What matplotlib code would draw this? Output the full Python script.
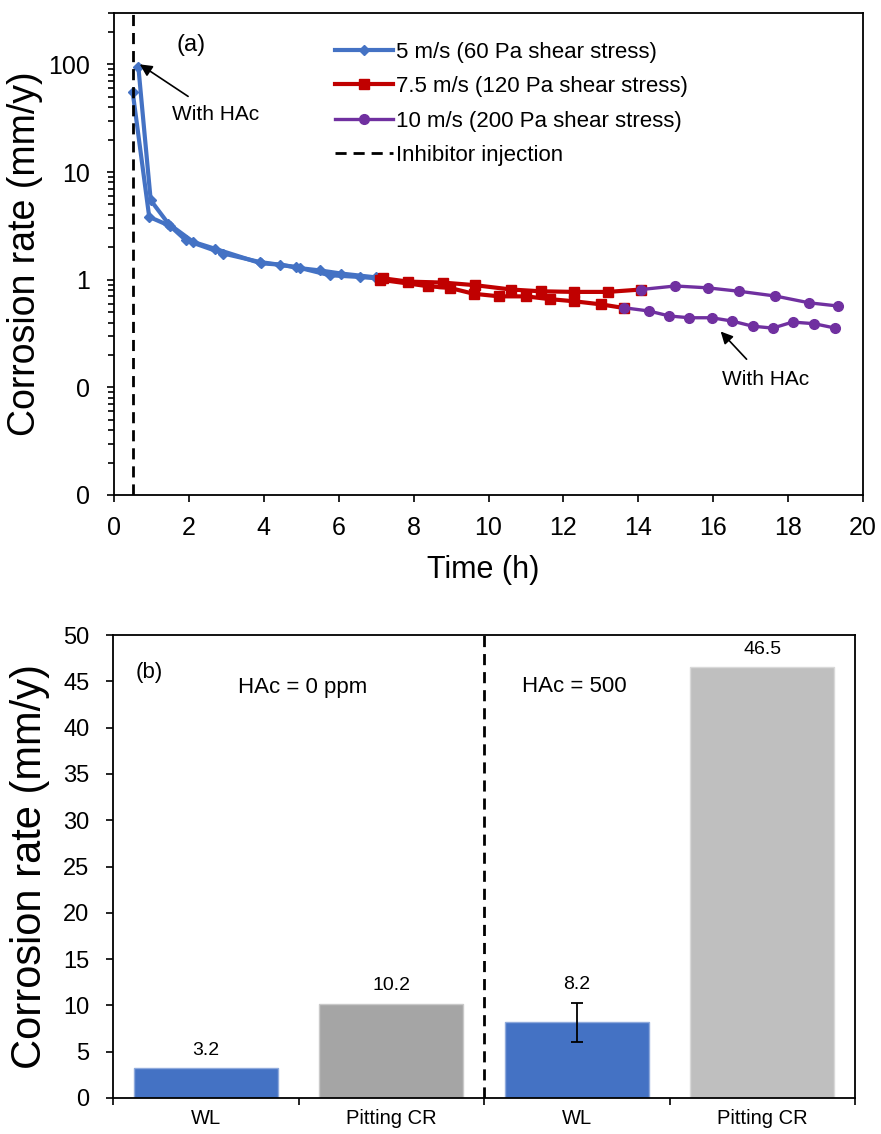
import numpy as np
import matplotlib
matplotlib.use("Agg")
from matplotlib import pyplot as plt
from matplotlib.ticker import FixedLocator, FuncFormatter, NullFormatter

plt.rcParams['font.family'] = ['Liberation Sans', 'DejaVu Sans']

# ---- dados (a): taxa de corrosao x tempo ----
# 5 m/s
t_5_a = [0.5, 0.94, 1.5, 1.92, 2.92, 3.89, 4.87, 5.76, 6.56, 7.0]
cr_5_a = [55, 3.83, 3.15, 2.32, 1.75, 1.46, 1.31, 1.10, 1.06, 1.03]
t_5_b = [0.65, 0.98, 1.45, 2.12, 2.69, 3.92, 4.43, 4.96, 5.49, 6.07, 7.0]
cr_5_b = [95, 5.47, 3.32, 2.24, 1.94, 1.42, 1.38, 1.28, 1.22, 1.14, 1.05]
# 7.5 m/s
t_75_a = [7.18, 7.85, 8.78, 9.63, 10.61, 11.4, 12.29, 13.18, 14.07]
cr_75_a = [1.03, 0.96, 0.94, 0.89, 0.81, 0.78, 0.77, 0.77, 0.81]
t_75_b = [7.1, 8.38, 8.96, 9.6, 10.29, 11.0, 11.63, 12.29, 13.0, 13.63]
cr_75_b = [1.0, 0.87, 0.84, 0.74, 0.70, 0.70, 0.66, 0.63, 0.59, 0.545]
# 10 m/s
t_10_a = [14.07, 14.99, 15.85, 16.7, 17.66, 18.56, 19.32]
cr_10_a = [0.81, 0.874, 0.84, 0.78, 0.705, 0.61, 0.57]
t_10_b = [13.63, 14.28, 14.83, 15.36, 15.96, 16.5, 17.05, 17.59, 18.12, 18.7, 19.26]
cr_10_b = [0.548, 0.512, 0.46, 0.443, 0.443, 0.413, 0.37, 0.355, 0.404, 0.39, 0.355]

t_injecao = 0.5

# ---- dados (b): barras ----
categorias = ["WL", "Pitting CR", "WL", "Pitting CR"]
valores = [3.2, 10.2, 8.2, 46.5]
rotulos = ["3.2", "10.2", "8.2", "46.5"]
erros = [0, 0, 2.1, 0]

azul = '#4472C4'
vermelho = '#C00000'
roxo = '#7030A0'

fig = plt.figure(figsize=(8.81, 11.34), dpi=100)
ax1 = fig.add_axes([114/881, 1 - 495/1134, 749/881, 482/1134])
ax2 = fig.add_axes([113/881, 1 - 1098/1134, 742/881, 463/1134])

# ---------------- (a) ----------------
l5, = ax1.plot(t_5_a, cr_5_a, color=azul, lw=3, marker='D', ms=5.5, label='5 m/s (60 Pa shear stress)')
ax1.plot(t_5_b, cr_5_b, color=azul, lw=3, marker='D', ms=5.5)
l75, = ax1.plot(t_75_a, cr_75_a, color=vermelho, lw=3, marker='s', ms=7.5, label='7.5 m/s (120 Pa shear stress)')
ax1.plot(t_75_b, cr_75_b, color=vermelho, lw=3, marker='s', ms=7.5)
l10, = ax1.plot(t_10_a, cr_10_a, color=roxo, lw=2.4, marker='o', ms=7, label='10 m/s (200 Pa shear stress)')
ax1.plot(t_10_b, cr_10_b, color=roxo, lw=2.4, marker='o', ms=7)
linj = ax1.axvline(t_injecao, color='k', lw=2, ls=(0, (4, 2.5)), label='Inhibitor injection')

ax1.set_yscale('log')
ax1.set_ylim(0.01, 300)
ax1.set_xlim(0, 20)
ax1.set_xticks(np.arange(0, 21, 2))
ax1.yaxis.set_major_locator(FixedLocator([0.01, 0.1, 1, 10, 100]))
ax1.yaxis.set_major_formatter(FuncFormatter(lambda v, p: '0' if v < 1 else '%d' % v))
minors = [m * 10.0**e for e in range(-2, 3) for m in range(2, 10) if m * 10.0**e <= 300]
ax1.yaxis.set_minor_locator(FixedLocator(minors))
ax1.yaxis.set_minor_formatter(NullFormatter())
ax1.tick_params(axis='y', which='major', length=5, width=1.2, labelsize=18, pad=12)
ax1.tick_params(axis='y', which='minor', length=4, width=1.2)
ax1.tick_params(axis='x', length=5, width=1.2, labelsize=18, pad=10)
for s in ax1.spines.values():
    s.set_linewidth(1.3)

ax1.set_xlabel('Time (h)', fontsize=22)
ax1.set_ylabel('Corrosion rate (mm/y)', fontsize=27)
ax1.xaxis.set_label_coords(0.493, -0.125)
ax1.yaxis.set_label_coords(-0.095, 0.5)

ax1.text(0.083, 0.934, '(a)', transform=ax1.transAxes, fontsize=17, va='center')
ax1.annotate('With HAc', xy=(0.69, 100), xytext=(2.72, 34), fontsize=15, ha='center', va='center',
             arrowprops=dict(arrowstyle='-|>', color='k', lw=1.2, shrinkA=8, shrinkB=0, mutation_scale=18))
ax1.annotate('With HAc', xy=(16.2, 0.33), xytext=(17.4, 0.118), fontsize=15, ha='center', va='center',
             arrowprops=dict(arrowstyle='-|>', color='k', lw=1.2, shrinkA=8, shrinkB=0, mutation_scale=18))

leg = ax1.legend(handles=[l5, l75, l10, linj], loc='upper left', bbox_to_anchor=(0.295, 0.94),
                 frameon=False, fontsize=16, handlelength=2.6, handletextpad=0.15,
                 labelspacing=0.6, borderaxespad=0, borderpad=0)

# ---------------- (b) ----------------
x = np.arange(len(categorias))
cores = [azul, '#A5A5A5', azul, '#BFBFBF']
bordas = ['#8FAADC', '#C9C9C9', '#8FAADC', '#D9D9D9']
ax2.bar(x, valores, width=0.775, color=cores, edgecolor=bordas, lw=1)
ax2.errorbar(x[2], valores[2], yerr=erros[2], fmt='none', ecolor='k', elinewidth=1.3, capsize=4, capthick=1.3)
for i in range(len(valores)):
    topo = valores[i] + erros[i]
    ax2.annotate(rotulos[i], (x[i], topo), xytext=(0, 7), textcoords='offset points',
                 ha='center', va='bottom', fontsize=14)
ax2.axvline(1.5, color='k', lw=2, ls=(0, (4, 2.5)))

ax2.set_xlim(-0.5, 3.5)
ax2.set_ylim(0, 50)
ax2.set_yticks(np.arange(0, 51, 5))
ax2.set_xticks([-0.5, 0.5, 1.5, 2.5, 3.5])
ax2.set_xticklabels([])
ax2.set_xticks(x, minor=True)
ax2.set_xticklabels(categorias, minor=True)
ax2.tick_params(axis='x', which='major', length=5, width=1.2)
ax2.tick_params(axis='x', which='minor', length=0, labelsize=14.5, pad=8)
ax2.tick_params(axis='y', length=5, width=1.2, labelsize=17, pad=12)
for s in ax2.spines.values():
    s.set_linewidth(1.3)
ax2.set_ylabel('Corrosion rate (mm/y)', fontsize=30)
ax2.yaxis.set_label_coords(-0.085, 0.5)

ax2.text(0.030, 0.918, '(b)', transform=ax2.transAxes, fontsize=16, va='center')
ax2.text(0.256, 0.886, 'HAc = 0 ppm', transform=ax2.transAxes, fontsize=16, va='center', ha='center')
ax2.text(0.551, 0.888, 'HAc = 500', transform=ax2.transAxes, fontsize=16, va='center')

fig.savefig('out.png', dpi=100)
